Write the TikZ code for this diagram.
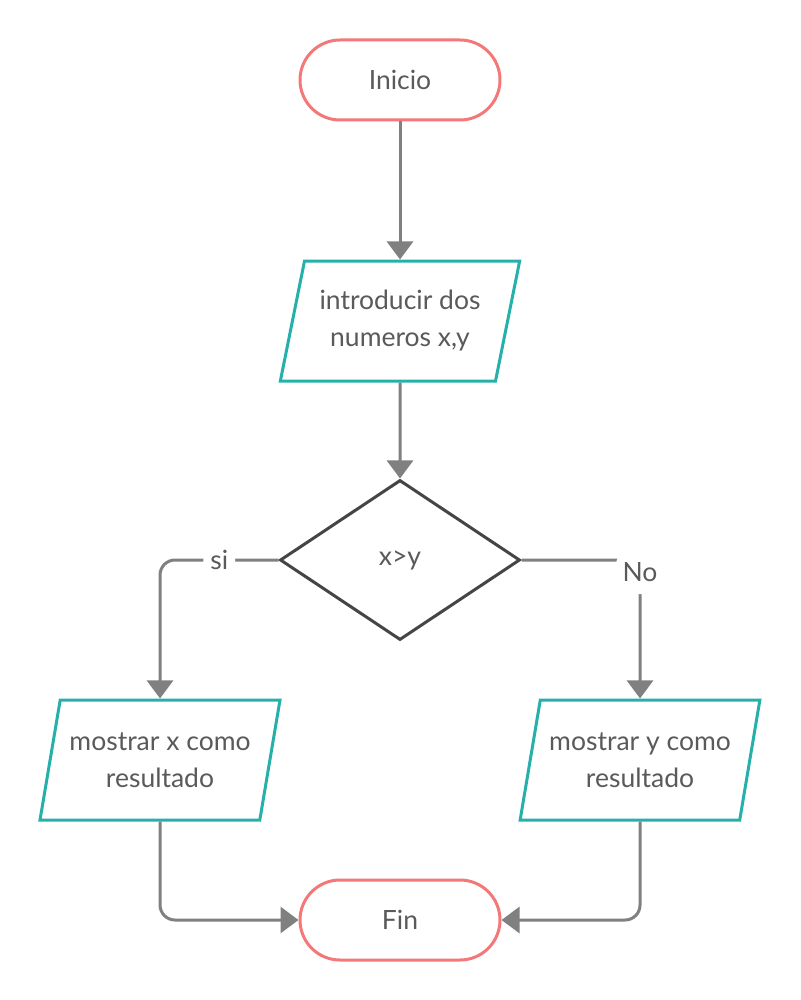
\documentclass[tikz,border=0pt]{standalone}
\usepackage{fontspec}
\setmainfont{Lato}
\usetikzlibrary{shapes.geometric,arrows.meta}
\definecolor{salmon}{HTML}{F47878}
\definecolor{tealc}{HTML}{26B0AC}
\definecolor{darkg}{HTML}{454545}
\definecolor{arrg}{HTML}{808080}
\definecolor{txtg}{HTML}{5A5A5A}
\begin{document}
\begin{tikzpicture}[x=1pt,y=-1pt,
  every node/.style={font=\fontsize{26.5}{37}\selectfont, text=txtg},
  term/.style={draw=salmon, line width=3pt, rounded corners=40pt, minimum width=200pt, minimum height=80pt, inner sep=0pt},
  io/.style={draw=tealc, line width=3pt, trapezium, trapezium stretches=true, trapezium left angle=71.57, trapezium right angle=108.43, minimum width=240pt, minimum height=120pt, align=center, inner sep=0pt},
  dec/.style={draw=darkg, line width=3pt, diamond, minimum width=240pt, minimum height=160pt, inner sep=0pt},
  arr/.style={draw=arrg, line width=3pt, -{Triangle[width=26pt,length=18pt]}},
  lbl/.style={fill=white, inner sep=0pt}]
\useasboundingbox[fill=white] (0,0) rectangle (800,1000);
\node[term] (start) at (400,80) {Inicio};
\node[io] (input) at (400,321) {introducir dos\\numeros x,y};
\node[dec] (cond) at (400,560) {x>y};
\node[io] (outx) at (160,760) {mostrar x como\\resultado};
\node[io] (outy) at (640,760) {mostrar y como\\resultado};
\node[term] (fin) at (400,920) {Fin};
\draw[arr] (start) -- (input);
\draw[arr] (input) -- (cond);
\draw[arr, rounded corners=15pt] (cond.west) -| node[pos=0.25, lbl, minimum width=32pt, minimum height=30pt] {si} (outx.north);
\draw[arr, rounded corners=15pt] (cond.east) -| node[pos=0.5, lbl, yshift=-12pt, minimum width=48pt, minimum height=44pt] {No} (outy.north);
\draw[arr, rounded corners=15pt] (outx.south) |- (fin.west);
\draw[arr, rounded corners=15pt] (outy.south) |- (fin.east);
\end{tikzpicture}
\end{document}
